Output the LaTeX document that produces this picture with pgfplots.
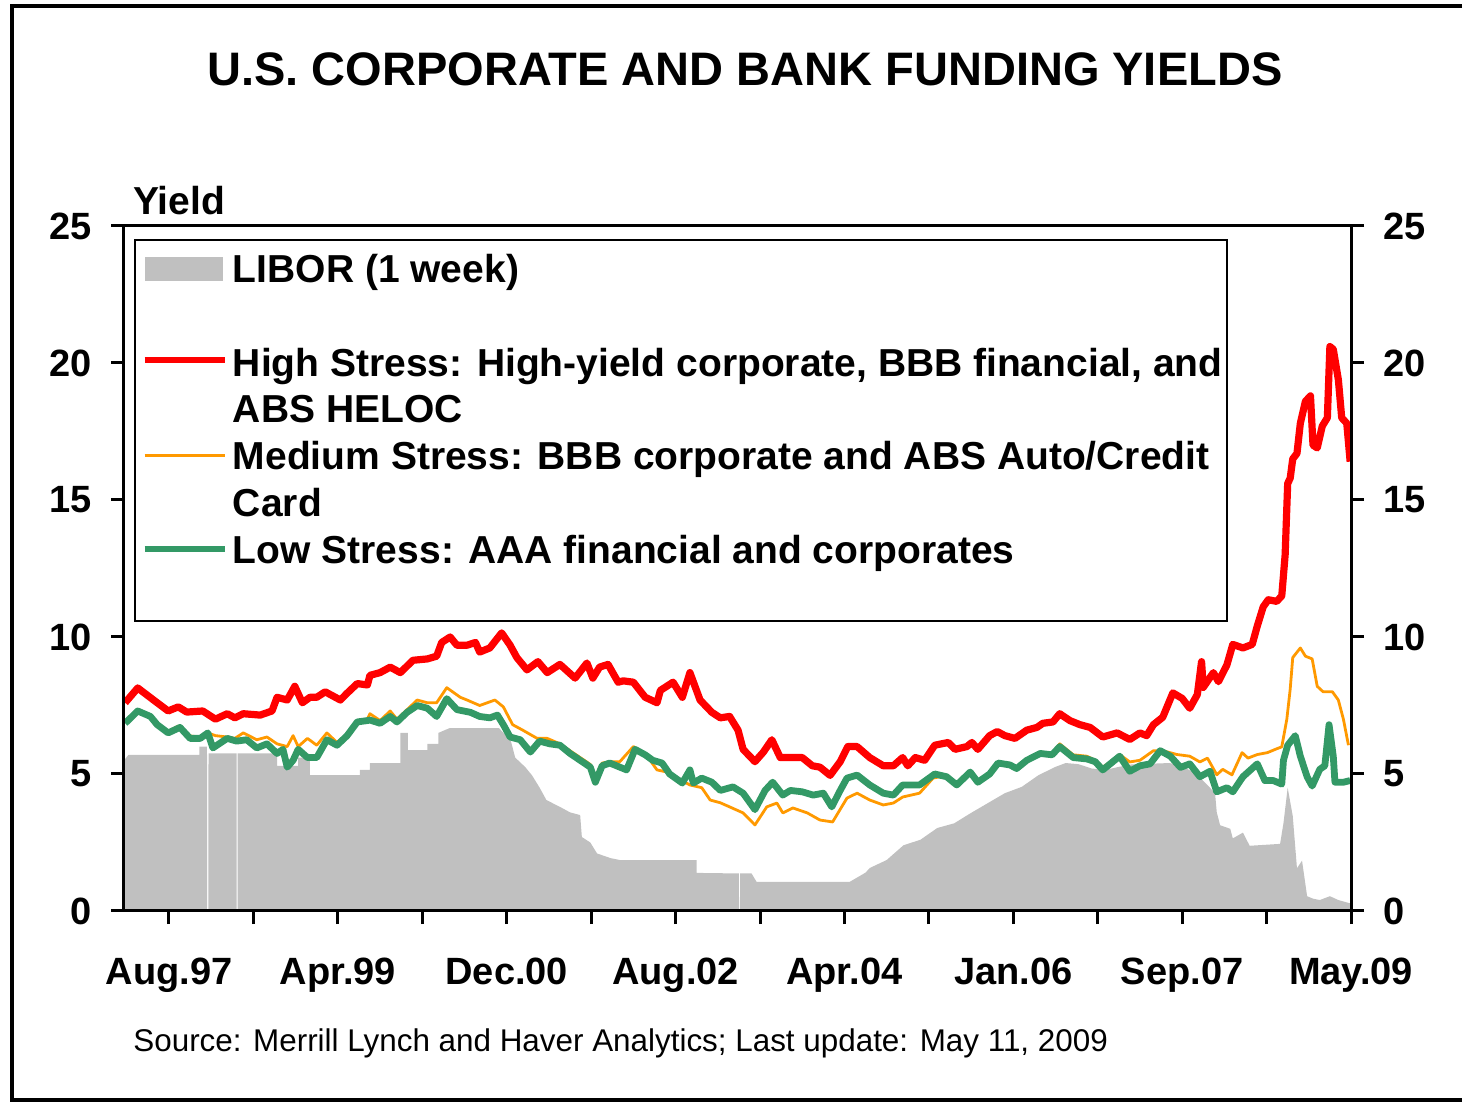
\documentclass[border=0pt]{standalone}
\usepackage{pgfplots}
\pgfplotsset{compat=1.18}
\usepackage{fontspec}
\setmainfont{Liberation Sans}
\definecolor{libgray}{RGB}{192,192,192}
\definecolor{hired}{RGB}{255,0,0}
\definecolor{medorange}{RGB}{255,153,0}
\definecolor{lowgreen}{RGB}{51,153,102}
\begin{document}
\begin{tikzpicture}
\useasboundingbox (-62pt,-96.5pt) rectangle (670pt,455.5pt);
\draw[line width=1.8pt] (669pt,452.5pt) -- (-56pt,452.5pt) -- (-56pt,-94.5pt) -- (669pt,-94.5pt);
\begin{axis}[
  at={(0pt,0pt)}, anchor=south west,
  scale only axis, width=613.5pt, height=342.5pt,
  xmin=1.67, xmax=147, ymin=0, ymax=25,
  axis on top,
  axis line style={line width=1.5pt},
  tick style={line width=1.5pt, black},
  major tick length=6.5pt,
  tick align=outside,
  xtick pos=left, ytick pos=left,
  xtick={7,17,...,147},
  xticklabels={Aug.97,,Apr.99,,Dec.00,,Aug.02,,Apr.04,,Jan.06,,Sep.07,,May.09},
  ytick={0,5,...,25},
  ticklabel style={font=\bfseries\fontsize{19}{19}\selectfont},
  /pgf/number format/assume math mode=true,
  xticklabel style={anchor=base, inner sep=0pt, yshift=-30pt},
  yticklabel style={anchor=east, inner sep=0pt, xshift=-9.5pt},
  legend style={draw=none, fill=none, inner sep=0pt, column sep=2.5pt, row sep=4.9pt,
    at={(axis description cs:0,1)}, anchor=north west, xshift=8.5pt, yshift=-14pt,
    cells={anchor=base west},
    nodes={font=\bfseries\fontsize{19.5}{19.5}\selectfont, text height=14pt, text depth=4.5pt, inner ysep=0pt, inner xsep=0pt}},
  line join=round,
]
\addplot[fill=libgray, draw=none,
  legend image code/.code={\fill[libgray] (0pt,0.5pt) rectangle (39pt,12.5pt);}]
coordinates {
(1.67,0)(1.68,5.5)(2.2,5.7)(10.6,5.7)(10.6,6.0)(11.5,6.0)(11.52,0)(11.66,0)(11.68,5.75)(15.0,5.75)(15.02,0)(15.12,0)(15.14,5.75)(19.8,5.75)(19.8,5.3)(22.3,5.3)(22.3,5.6)(23.7,5.6)(23.7,4.96)(29.6,4.96)(29.6,5.15)(30.8,5.15)(30.8,5.4)(34.4,5.4)(34.4,6.5)(35.3,6.5)(35.3,5.87)(37.6,5.87)(37.6,6.1)(38.9,6.1)(38.9,6.5)(40.2,6.67)(46.1,6.67)(47.5,6.2)(48.0,5.6)(49.2,5.25)(50.0,4.95)(50.9,4.5)(51.7,4.05)(53.3,3.8)(54.5,3.6)(55.7,3.5)(55.9,2.7)(56.9,2.5)(57.7,2.1)(59.3,1.93)(60.4,1.86)(69.5,1.86)(69.5,1.39)(74.5,1.37)(74.52,0)(74.64,0)(74.66,1.37)(76.0,1.37)(76.6,1.06)(87.6,1.06)(89.5,1.4)(90.0,1.57)(92.0,1.86)(94.0,2.4)(96.0,2.6)(98.0,3.03)(100.0,3.2)(102.0,3.58)(104.0,3.94)(106.0,4.3)(108.0,4.53)(110.0,4.96)(112.0,5.26)(113.2,5.4)(114.7,5.36)(116.3,5.2)(117.9,5.15)(119.5,5.26)(121.0,5.35)(125.5,5.4)(127.0,5.3)(128.8,4.97)(130.3,4.5)(130.9,4.3)(131.1,3.6)(131.5,3.13)(132.7,3.0)(133.0,2.65)(134.2,2.86)(135.0,2.38)(138.6,2.45)(139.0,3.2)(139.5,4.5)(140.1,3.47)(140.6,1.56)(141.2,1.84)(141.8,0.54)(142.5,0.45)(143.3,0.4)(144.5,0.54)(145.5,0.4)(147.0,0.27)(147.0,0)
};
\addlegendentry{LIBOR (1 week)}
\addlegendimage{empty legend}
\addlegendentry{}
\addplot[hired, line width=3.6pt,
  legend image code/.code={\draw[hired, line width=3.3pt] (0pt,8pt) -- (40pt,8pt);}]
coordinates {
(1.8,7.6)(3.3,8.14)(5.6,7.6)(6.9,7.3)(8.1,7.45)(9.1,7.26)(11.0,7.3)(12.5,7.0)(13.9,7.2)(14.8,7.05)(15.8,7.2)(17.8,7.15)(19.2,7.3)(19.8,7.8)(21.0,7.7)(21.9,8.2)(22.8,7.6)(23.7,7.8)(24.5,7.8)(25.5,8.0)(27.3,7.7)(28.1,7.95)(29.3,8.3)(30.5,8.25)(30.8,8.6)(32.0,8.7)(33.2,8.9)(34.4,8.7)(35.9,9.15)(37.6,9.2)(38.7,9.3)(39.3,9.8)(40.3,10.0)(41.1,9.7)(42.3,9.7)(43.3,9.8)(43.8,9.45)(45.0,9.6)(46.4,10.15)(47.4,9.7)(48.2,9.25)(49.4,8.8)(50.7,9.1)(51.8,8.7)(53.3,9.0)(55.1,8.5)(56.5,9.05)(57.2,8.5)(58.0,8.9)(59.0,9.0)(60.2,8.35)(60.8,8.4)(62.0,8.35)(63.4,7.8)(64.8,7.6)(65.2,8.05)(66.7,8.35)(67.8,7.8)(68.7,8.7)(69.9,7.7)(71.3,7.25)(72.3,7.05)(73.4,7.1)(74.4,6.6)(75.0,5.9)(76.4,5.45)(77.4,5.8)(78.4,6.25)(79.4,5.6)(80.6,5.6)(82.0,5.6)(83.2,5.3)(84.1,5.25)(85.3,4.95)(86.5,5.45)(87.4,6.0)(88.5,6.0)(90.0,5.6)(91.6,5.3)(92.8,5.3)(93.9,5.6)(94.5,5.3)(95.4,5.6)(96.5,5.5)(97.7,6.05)(99.3,6.15)(100.1,5.9)(101.5,6.0)(102.1,6.15)(102.8,5.9)(104.2,6.4)(105.1,6.55)(106.0,6.4)(107.2,6.3)(108.6,6.6)(109.8,6.7)(110.5,6.85)(111.7,6.9)(112.5,7.2)(113.7,6.95)(114.9,6.8)(116.1,6.7)(117.6,6.35)(119.3,6.5)(120.8,6.26)(122.0,6.5)(122.8,6.4)(123.6,6.8)(124.7,7.07)(125.9,7.96)(127.0,7.76)(127.9,7.4)(128.8,7.9)(129.3,9.1)(129.5,8.16)(130.7,8.7)(131.3,8.37)(132.3,8.98)(133.0,9.73)(134.2,9.6)(135.3,9.73)(135.9,10.4)(136.6,11.1)(137.2,11.36)(138.2,11.3)(138.8,11.5)(139.2,13.0)(139.5,15.6)(139.8,15.8)(140.1,16.5)(140.6,16.7)(141.0,17.8)(141.6,18.6)(142.2,18.8)(142.5,17.0)(143.0,16.9)(143.6,17.7)(144.2,18.0)(144.5,20.6)(144.9,20.5)(145.5,19.4)(145.9,18.0)(146.5,17.8)(146.9,16.4)
};
\addlegendentry{High Stress: High-yield corporate, BBB financial, and}
\addlegendimage{empty legend}
\addlegendentry{ABS HELOC}
\addplot[medorange, line width=1.4pt,
  legend image code/.code={\draw[medorange, line width=1.2pt] (0pt,7pt) -- (40pt,7pt);}]
coordinates {
(1.8,6.9)(3.3,7.3)(4.8,7.1)(5.6,6.85)(6.9,6.55)(8.1,6.75)(9.1,6.4)(10.7,6.35)(11.6,6.5)(12.5,6.4)(13.9,6.35)(14.8,6.3)(15.8,6.5)(17.4,6.25)(18.6,6.35)(19.8,6.1)(21.0,6.0)(21.7,6.4)(22.3,6.0)(23.4,6.3)(24.5,6.05)(25.7,6.5)(26.9,6.15)(28.1,6.45)(29.3,6.95)(30.5,7.0)(30.8,7.2)(32.0,6.95)(33.2,7.3)(34.0,7.0)(35.2,7.35)(36.4,7.7)(37.6,7.6)(38.7,7.6)(39.9,8.15)(41.5,7.8)(42.3,7.7)(43.8,7.5)(45.6,7.7)(46.6,7.45)(47.7,6.8)(48.9,6.6)(50.6,6.3)(51.8,6.3)(53.3,6.1)(54.5,5.85)(55.7,5.6)(56.9,5.35)(57.5,4.9)(58.3,5.4)(59.2,5.45)(60.4,5.45)(62.0,6.0)(63.4,5.75)(64.8,5.15)(66.3,5.05)(67.8,4.75)(68.7,4.6)(70.1,4.5)(71.1,4.05)(72.3,3.95)(73.4,3.8)(75.0,3.58)(76.4,3.14)(77.8,3.8)(79.0,3.94)(79.7,3.58)(80.9,3.76)(82.6,3.58)(84.1,3.32)(85.6,3.25)(87.3,4.12)(88.5,4.3)(90.0,4.05)(91.6,3.87)(92.8,3.94)(93.9,4.16)(95.9,4.3)(97.5,4.85)(99.1,4.95)(100.3,4.65)(101.9,5.1)(102.8,4.75)(104.2,5.05)(105.2,5.45)(106.6,5.35)(107.4,5.25)(108.6,5.55)(110.2,5.8)(111.6,5.75)(112.5,6.1)(114.1,5.7)(115.7,5.65)(116.7,5.5)(117.6,5.25)(118.8,5.5)(119.6,5.71)(120.8,5.44)(122.0,5.5)(123.6,5.85)(124.7,5.85)(126.4,5.71)(127.9,5.65)(129.1,5.44)(130.0,5.58)(131.1,4.97)(131.8,5.17)(132.9,4.97)(134.1,5.78)(134.8,5.58)(135.9,5.71)(137.1,5.78)(138.2,5.92)(138.8,5.99)(139.4,7.0)(139.8,8.1)(140.1,9.25)(141.0,9.6)(141.6,9.3)(142.4,9.2)(143.0,8.2)(143.7,8.0)(144.8,8.0)(145.5,7.7)(146.1,7.0)(146.7,6.05)
};
\addlegendentry{Medium Stress: BBB corporate and ABS Auto/Credit}
\addlegendimage{empty legend}
\addlegendentry{Card}
\addplot[lowgreen, line width=3.4pt,
  legend image code/.code={\draw[lowgreen, line width=3pt] (0pt,7pt) -- (40pt,7pt);}]
coordinates {
(1.8,6.85)(3.3,7.3)(4.8,7.1)(5.6,6.8)(6.9,6.5)(8.3,6.7)(9.5,6.3)(10.7,6.3)(11.6,6.5)(12.2,5.95)(13.9,6.3)(15.0,6.2)(16.2,6.25)(17.4,5.95)(18.6,6.1)(19.8,5.75)(20.5,5.9)(21.0,5.25)(21.7,5.5)(22.3,5.9)(23.4,5.6)(24.5,5.6)(25.7,6.25)(26.9,6.05)(28.1,6.4)(29.3,6.9)(30.5,6.95)(30.8,6.97)(32.0,6.85)(33.2,7.1)(34.0,6.9)(35.2,7.25)(36.4,7.5)(37.6,7.4)(38.7,7.1)(39.9,7.75)(41.1,7.35)(42.7,7.25)(43.8,7.1)(45.0,7.05)(45.9,7.15)(46.6,6.8)(47.4,6.35)(48.6,6.25)(49.8,5.8)(50.9,6.2)(52.1,6.1)(53.3,6.05)(54.5,5.75)(55.7,5.5)(56.9,5.25)(57.5,4.7)(58.3,5.3)(59.2,5.4)(60.4,5.25)(61.2,5.15)(62.2,5.9)(63.4,5.7)(64.3,5.5)(65.4,5.4)(66.3,5.0)(67.8,4.67)(68.7,5.15)(69.1,4.67)(70.1,4.85)(71.3,4.7)(72.3,4.4)(73.8,4.53)(75.0,4.3)(76.4,3.7)(77.6,4.4)(78.5,4.7)(79.7,4.23)(80.6,4.4)(82.0,4.35)(83.3,4.23)(84.5,4.3)(85.5,3.8)(86.5,4.4)(87.3,4.85)(88.5,4.96)(90.0,4.6)(91.6,4.3)(92.8,4.23)(93.9,4.6)(95.9,4.6)(97.7,5.0)(99.1,4.9)(100.3,4.6)(101.9,5.07)(102.8,4.7)(104.2,5.0)(105.2,5.4)(106.6,5.33)(107.4,5.2)(108.6,5.5)(110.2,5.75)(111.6,5.7)(112.5,6.0)(114.1,5.6)(115.7,5.55)(116.7,5.45)(117.6,5.15)(118.8,5.45)(119.6,5.65)(120.8,5.1)(122.0,5.3)(123.2,5.37)(124.4,5.85)(125.6,5.65)(126.8,5.24)(127.9,5.37)(129.1,4.9)(130.3,5.1)(131.1,4.35)(132.3,4.5)(133.0,4.35)(134.2,4.9)(135.9,5.37)(136.8,4.76)(137.8,4.76)(138.8,4.63)(139.0,5.5)(139.5,6.05)(140.4,6.4)(141.0,5.65)(141.8,4.9)(142.4,4.56)(143.3,5.17)(143.9,5.3)(144.4,6.8)(144.9,5.65)(145.1,4.7)(146.1,4.7)(146.9,4.76)
};
\addlegendentry{Low Stress: AAA financial and corporates}
\end{axis}
\begin{axis}[
  at={(0pt,0pt)}, anchor=south west,
  scale only axis, width=613.5pt, height=342.5pt,
  xmin=1.67, xmax=147, ymin=0, ymax=25,
  axis x line=none, axis y line*=right,
  axis line style={line width=1.5pt, -},
  tick style={line width=1.5pt, black},
  major tick length=6.5pt,
  tick align=outside,
  ytick={0,5,...,25},
  ticklabel style={font=\bfseries\fontsize{19}{19}\selectfont},
  /pgf/number format/assume math mode=true,
  yticklabel style={anchor=west, inner sep=0pt, xshift=9.5pt},
]
\end{axis}
\draw[line width=0.6pt] (5.5pt,335.5pt) rectangle (551.5pt,145pt);
\node[anchor=base, inner sep=0pt, font=\bfseries\fontsize{23.5}{28}\selectfont] at (310.5pt,412.5pt) {U.S. CORPORATE AND BANK FUNDING YIELDS};
\node[anchor=base west, inner sep=0pt, font=\bfseries\fontsize{19.5}{19.5}\selectfont] at (4.5pt,348pt) {Yield};
\node[anchor=base west, inner sep=0pt, font=\fontsize{15.7}{18}\selectfont] at (4.5pt,-70.5pt) {Source: Merrill Lynch and Haver Analytics; Last update: May 11, 2009};
\end{tikzpicture}
\end{document}
